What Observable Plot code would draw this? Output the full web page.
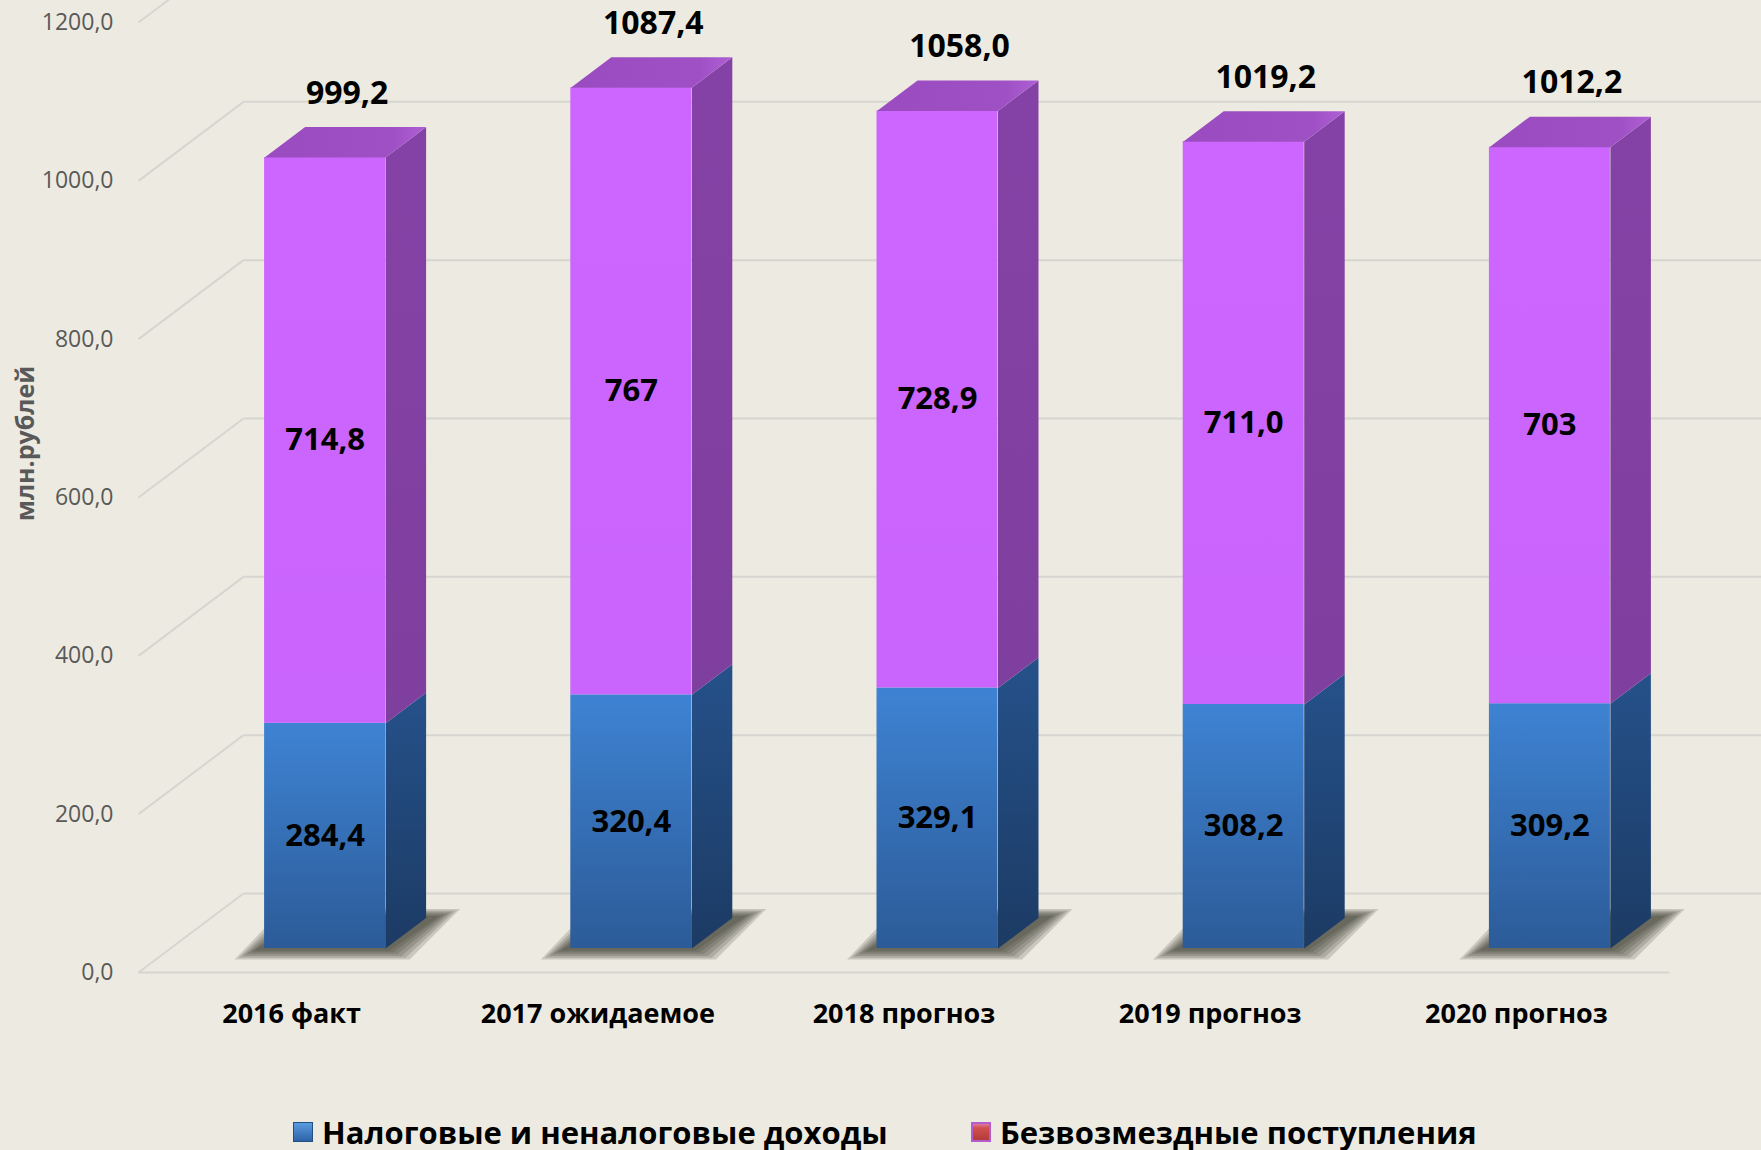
<!DOCTYPE html>
<html><head><meta charset="utf-8">
<script src="https://cdn.jsdelivr.net/npm/d3@7"></script>
<script src="https://cdn.jsdelivr.net/npm/@observablehq/plot@0.6"></script>
<style>
html,body{margin:0;padding:0;background:#EDEBE1;}
body{width:1761px;height:1150px;overflow:hidden;font-family:"Open Sans",sans-serif;}
#chart svg{display:block;}
#legend{position:relative;height:50px;width:1761px;}
.item{position:absolute;top:0;height:50px;display:flex;align-items:center;font-weight:bold;font-size:31px;color:#000;white-space:nowrap;}
.swatch{width:20px;height:20px;margin-right:9px;box-sizing:border-box;}
</style></head><body>
<div id="chart"></div>
<div id="legend"></div>
<script>
// ---- data ----
const categories = ["2016 факт", "2017 ожидаемое", "2018 прогноз", "2019 прогноз", "2020 прогноз"];
const taxIncome = [284.4, 320.4, 329.1, 308.2, 309.2];
const grants = [714.8, 767, 728.9, 711.0, 703];
const totals = [999.2, 1087.4, 1058.0, 1019.2, 1012.2];
const taxLabels = ["284,4", "320,4", "329,1", "308,2", "309,2"];
const grantLabels = ["714,8", "767", "728,9", "711,0", "703"];
const totalLabels = ["999,2", "1087,4", "1058,0", "1019,2", "1012,2"];
const yTicks = [0, 200, 400, 600, 800, 1000, 1200];
const seriesNames = ["Налоговые и неналоговые доходы", "Безвозмездные поступления"];
const yTitle = "млн.рублей";

// ---- layout ----
const W = 1761, H = 1100, mL = 138, mR = 92, mT = 22, mB = 128;
const pxX = (W - mL - mR) / categories.length;
const pxY = (H - mT - mB) / 1200;
const planeDX = 33.5, planeDY = -24;          // bar plane offset (px)
const halfW = 60.5 / pxX;
const depthX = 40.5 / pxX, depthY = 30.5 / pxY; // bar depth
const wallX = 105 / pxX, wallY = 79 / pxY;      // wall depth

const rows = categories.map((c, i) => ({i, c, tax: taxIncome[i], grant: grants[i], top: taxIncome[i] + grants[i]}));
const poly = (id, pts) => pts.map(([x, y]) => ({id, x, y}));

const blueSide = rows.flatMap(d => poly(d.i, [
  [d.i + halfW, 0], [d.i + halfW, d.tax], [d.i + halfW + depthX, d.tax + depthY], [d.i + halfW + depthX, depthY]]));
const purpleSide = rows.flatMap(d => poly(d.i, [
  [d.i + halfW, d.tax], [d.i + halfW, d.top], [d.i + halfW + depthX, d.top + depthY], [d.i + halfW + depthX, d.tax + depthY]]));
const topFace = rows.flatMap(d => poly(d.i, [
  [d.i - halfW, d.top], [d.i + halfW, d.top], [d.i + halfW + depthX, d.top + depthY], [d.i - halfW + depthX, d.top + depthY]]));
// soft floor shadow: stacked translucent layers around each bar footprint
const shadowLayers = [0, 1, 2, 3, 4, 5];
const shadow = rows.flatMap(d => shadowLayers.flatMap(k => {
  const e = k * 4;
  return poly(d.i + "-" + k, [
    [d.i - halfW - (10 + e) / pxX, -(2 + e * 0.45) / pxY],
    [d.i + halfW + (4 + e) / pxX, -(2 + e * 0.45) / pxY],
    [d.i + halfW + depthX + (14 + e) / pxX, depthY + (2 + e * 0.35) / pxY],
    [d.i - halfW + depthX - (2 + e) / pxX, depthY + (2 + e * 0.35) / pxY]]);
}));

const diag = yTicks.map(v => ({x1: -0.5, y1: v, x2: -0.5 + wallX, y2: v + wallY}));
const back = yTicks.map(v => ({x1: -0.5 + wallX, y1: v + wallY, x2: 5.2, y2: v + wallY}));
const floorFront = [{x1: -0.5, y1: 0, x2: categories.length - 0.5, y2: 0}];

function defs() {
  const g = d3.create("svg:g");
  const df = g.append("defs");
  const grad = (id, stops, x2 = "0", y2 = "1") => {
    const lg = df.append("linearGradient").attr("id", id).attr("x1", 0).attr("y1", 0).attr("x2", x2).attr("y2", y2);
    stops.forEach(([o, c]) => lg.append("stop").attr("offset", o).attr("stop-color", c));
  };
  grad("blueFront", [[0, "#3E83D3"], [1, "#2C5B98"]]);
  grad("blueSide", [[0, "#25518A"], [1, "#1C3B64"]]);
  grad("purpleFront", [[0, "#CC66FF"], [1, "#C964FC"]]);
  grad("purpleSide", [[0, "#8542A6"], [1, "#7F3F9E"]]);
  grad("purpleTop", [[0, "#9A4BBF"], [0.8, "#9E50C4"], [1, "#B060D6"]], "1", "0");
  return g.node();
}

const common = {dx: planeDX, dy: planeDY};

const chart = Plot.plot({
  width: W, height: H,
  marginLeft: mL, marginRight: mR, marginTop: mT, marginBottom: mB,
  style: {background: "#EDEBE1", fontFamily: "'Open Sans', sans-serif", overflow: "visible"},
  x: {type: "linear", domain: [-0.5, categories.length - 0.5]},
  y: {type: "linear", domain: [0, 1200]},
  marks: [
    defs,
    Plot.link(diag, {x1: "x1", y1: "y1", x2: "x2", y2: "y2", stroke: "#D6D5D0", strokeWidth: 2}),
    Plot.link(back, {x1: "x1", y1: "y1", x2: "x2", y2: "y2", stroke: "#D6D5D0", strokeWidth: 2}),
    Plot.link(floorFront, {x1: "x1", y1: "y1", x2: "x2", y2: "y2", stroke: "#D6D5D0", strokeWidth: 2}),
    Plot.line(shadow, {x: "x", y: "y", z: "id", fill: "#34342b", fillOpacity: 0.19, stroke: "none", ...common}),
    Plot.rect(rows, {x1: d => d.i - halfW, x2: d => d.i + halfW, y1: 0, y2: "tax", fill: "url(#blueFront)", ...common}),
    Plot.line(blueSide, {x: "x", y: "y", z: "id", fill: "url(#blueSide)", stroke: "none", ...common}),
    Plot.rect(rows, {x1: d => d.i - halfW, x2: d => d.i + halfW, y1: "tax", y2: "top", fill: "url(#purpleFront)", ...common}),
    Plot.line(purpleSide, {x: "x", y: "y", z: "id", fill: "url(#purpleSide)", stroke: "none", ...common}),
    Plot.line(topFace, {x: "x", y: "y", z: "id", fill: "url(#purpleTop)", stroke: "none", ...common}),
    Plot.text(rows, {x: "i", y: d => d.tax / 2, text: d => taxLabels[d.i], fontSize: 31, fontWeight: "bold", fill: "#000", ...common}),
    Plot.text(rows, {x: "i", y: d => d.tax + d.grant / 2, text: d => grantLabels[d.i], fontSize: 31, fontWeight: "bold", fill: "#000", ...common}),
    Plot.text(rows, {x: "i", y: "top", text: d => totalLabels[d.i], fontSize: 32, fontWeight: "bold", fill: "#000", dx: planeDX + 22, dy: planeDY - 64}),
    Plot.axisY({ticks: yTicks, tickSize: 0, tickPadding: 25, tickFormat: d => d3.format(".1f")(d).replace(".", ","), fontSize: 23, fill: "#595959", label: null}),
    Plot.axisX({ticks: d3.range(categories.length), tickFormat: i => categories[i], tickSize: 0, tickPadding: 31, fontSize: 27, fontWeight: "bold", fill: "#000", label: null}),
    Plot.text([yTitle], {text: d => d, frameAnchor: "left", textAnchor: "middle", dx: -113, dy: -54, rotate: -90, fontSize: 25, fontWeight: "bold", fill: "#595959"})
  ]
});
document.getElementById("chart").appendChild(chart);

// ---- legend ----
const legend = d3.select("#legend");
const swatches = [
  {left: 293, bg: "linear-gradient(to bottom, #5B9BE0, #2E62A6)", border: "1px solid #244F85"},
  {left: 971, bg: "linear-gradient(to bottom, #E27A9A 0%, #D0504F 25%, #B53A3A 100%)", border: "2px solid #B45BD0"}
];
seriesNames.forEach((name, k) => {
  const it = legend.append("div").attr("class", "item").style("left", swatches[k].left + "px").style("top", "7px");
  it.append("div").attr("class", "swatch").style("background", swatches[k].bg).style("border", swatches[k].border);
  it.append("span").text(name);
});
</script>
</body></html>
